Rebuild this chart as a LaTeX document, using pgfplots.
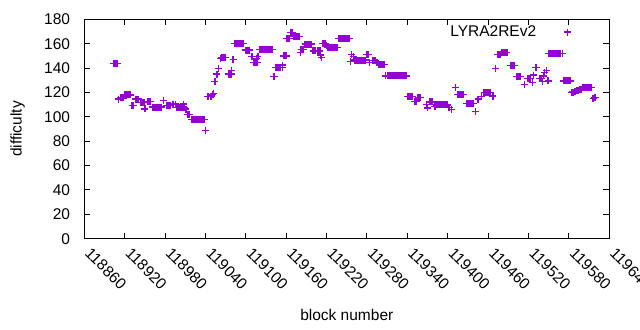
\documentclass[border=0pt]{standalone}
\usepackage{fontspec}
\setmainfont{Liberation Sans}
\usepackage{pgfplots}
\pgfplotsset{compat=1.18}
\definecolor{dv}{HTML}{9400D3}
\newcommand{\ff}{\fontsize{15.5bp}{18bp}\selectfont}
\begin{document}
\begin{tikzpicture}
\begin{axis}[
  scale only axis, width=525bp, height=219.4bp,
  xmin=118860, xmax=119640, ymin=0, ymax=180,
  xtick={118860,118920,118980,119040,119100,119160,119220,119280,119340,119400,119460,119520,119580,119640},
  ytick={0,20,40,60,80,100,120,140,160,180},
  scaled x ticks=false, scaled y ticks=false,
  /pgf/number format/fixed,
  /pgf/number format/precision=0,
  /pgf/number format/1000 sep={},
  /pgf/number format/assume math mode=true,
  tick align=inside, major tick length=6bp,
  axis line style={line width=1bp, black},
  every tick/.style={line width=1bp, black},
  tick label style={font=\ff},
  xticklabel style={xshift=3.5bp, yshift=-12bp, rotate=-45, anchor=west, inner sep=0pt},
  yticklabel style={anchor=east, inner sep=0pt, xshift=-14bp},
  xlabel={block number}, ylabel={difficulty},
  every axis x label/.style={at={(rel axis cs:0.5,-0.3478)}, anchor=center, font=\ff},
  every axis y label/.style={at={(rel axis cs:-0.1272,0.5)}, anchor=center, rotate=90, font=\ff},
  legend plot pos=right,
  legend style={at={(rel axis cs:0.9337,0.942)}, anchor=east, draw=none, fill=none, font=\ff},
]
\addplot[only marks, color=dv, mark=+, mark size=3.5bp, mark options={line width=1.3bp}] coordinates {
(118903,144) (118905,144) (118907,144) (118909,144)
(118911,114.5)
(118914,115.5) (118916,115.5) (118918,115.5)
(118920,118) (118922,118) (118924,118) (118926,118) (118928,118)
(118931,109) (118933,109)
(118936,114.5) (118938,114.5) (118940,114.5)
(118943,112) (118945,112) (118947,112) (118949,111.5)
(118950,106.5)
(118954,112.4) (118956,112.4) (118958,112.4)
(118962,108) (118964,108) (118966,108) (118968,108) (118970,108) (118972,108) (118974,108)
(118978,113.5)
(118982,109) (118984,109) (118986,109) (118988,109)
(118991,110.5) (118993,110.5) (118995,110.5)
(118997,107.7) (118999,107.7) (119001,107.7) (119003,107.7) (119005,107.7) (119007,107.7) (119009,107.7)
(119007,110.5)
(119011,106.4)
(119013,102) (119015,102) (119016,102)
(119019,98) (119021,98) (119023,98) (119025,98) (119027,98) (119029,98) (119031,98) (119033,98) (119035,98) (119037,98) (119039,98)
(119040,89)
(119043,116.5) (119045,116.5) (119047,116.5) (119049,117)
(119051,118.5) (119052,119)
(119054,129)
(119057,135)
(119059,139.8)
(119062,148)
(119064,148.8) (119066,148.8) (119068,148.8) (119070,148.8)
(119074,135) (119076,135) (119078,135)
(119079,138)
(119081,147.2)
(119083,160.3) (119085,160.3) (119087,160.3) (119089,160.3) (119091,160.3) (119093,160.3) (119095,160.3) (119097,160.3)
(119099,154.8) (119101,154.8) (119103,154.8) (119105,154.8)
(119109,149.3)
(119111,144.7) (119113,144.7) (119115,144.7) (119117,144.7)
(119116,148)
(119118,149.3)
(119120,155.4) (119122,155.4) (119124,155.4) (119126,155.4) (119128,155.4) (119130,155.4) (119132,155.4) (119134,155.4) (119136,155.4) (119138,155.4) (119140,155.4)
(119141,133) (119143,133)
(119144,140.3) (119146,140.3) (119148,140.3) (119150,140.3) (119152,140.3) (119154,140.3)
(119154,142.5)
(119156,150) (119158,150) (119160,150)
(119161,164.4) (119163,164.4) (119165,164.4)
(119167,169.3) (119169,169.3)
(119171,165.7) (119173,165.7) (119175,165.7) (119177,165.7) (119179,165.7)
(119181,153)
(119182,155) (119184,155) (119186,155)
(119188,159.7) (119190,159.7) (119192,159.7) (119194,159.7) (119196,159.7) (119198,159.7)
(119200,154) (119202,154) (119204,154) (119206,154) (119208,154) (119210,154)
(119211,150.7) (119212,148.8)
(119214,160.3) (119216,160.3) (119218,160.3)
(119220,158.3)
(119222,157) (119224,157) (119226,157) (119228,157) (119230,157) (119232,157) (119234,157) (119236,157)
(119238,164.4) (119240,164.4) (119242,164.4) (119244,164.4) (119246,164.4) (119248,164.4) (119250,164.4) (119252,164.4) (119254,164.4)
(119255,145.5)
(119257,151.4)
(119260,149.3)
(119262,146.6) (119264,146.6) (119266,146.6) (119268,146.6) (119270,146.6) (119272,146.6) (119274,146.6) (119276,146.6) (119278,146.6)
(119280,151) (119282,151)
(119284,144.4)
(119288,146.3) (119290,146.3) (119292,146.3)
(119295,144.7)
(119298,143.1) (119300,143.1) (119302,143.1) (119304,143.1) (119306,143.1)
(119308,133.5) (119310,133.5) (119312,133.5) (119314,133.5) (119316,133.5) (119318,133.5) (119320,133.5) (119322,133.5) (119324,133.5) (119326,133.5) (119328,133.5) (119330,133.5) (119332,133.5) (119334,133.5) (119336,133.5) (119338,133.5)
(119340,116.8) (119342,116.8) (119344,116.8) (119346,116.8) (119348,116.8)
(119351,112.4) (119353,112.4)
(119356,116) (119358,116) (119360,116)
(119368,110.3)
(119370,107.3)
(119373,112.2) (119375,112.2) (119377,112.2)
(119381,108.5)
(119383,109.7) (119385,109.7) (119387,109.7) (119389,109.7) (119391,109.7) (119393,109.7) (119395,109.7) (119397,109.7) (119399,109.7)
(119402,107.8)
(119406,106)
(119412,124)
(119415,118.5) (119417,118.5) (119419,118.5) (119421,118.5) (119423,118.5)
(119428,111) (119430,111) (119432,111) (119434,111) (119436,111) (119438,111)
(119441,104.5)
(119445,114.6)
(119450,116.5)
(119454,120.1) (119456,120.1) (119458,120.1) (119460,120.1) (119462,120.1) (119464,120.1)
(119467,117)
(119471,139.8)
(119474,151.3) (119476,151.3) (119478,151.3)
(119480,152.9) (119482,152.9) (119484,152.9) (119486,152.9) (119488,152.9)
(119493,142.2) (119495,142.2) (119497,142.2) (119499,142.2)
(119502,133.2) (119504,133.2) (119506,133.2) (119508,133.2)
(119514,126.7)
(119518,131.3) (119520,131.3) (119522,131.3)
(119526,128)
(119527,134.3)
(119530,140.3) (119532,140.3)
(119537,131.6) (119539,131.6)
(119541,128.8)
(119542,133.5)
(119544,136.2)
(119547,137.8)
(119549,129.4)
(119550,152.1) (119552,152.1) (119554,152.1) (119556,152.1) (119558,152.1) (119560,152.1) (119562,152.1) (119564,152.1) (119566,152.1) (119568,152.1) (119570,152.1)
(119572,129.4) (119574,129.4) (119576,129.4) (119578,129.4) (119580,129.4) (119582,129.4)
(119584,119.8)
(119586,120.3) (119588,120.6) (119590,121) (119592,121.3) (119594,121.6) (119596,122) (119598,122.3)
(119600,124.2) (119602,124.2) (119604,124.2) (119606,124.2) (119608,124.2) (119610,124.2) (119612,124.2) (119614,124.2)
(119616,115)
(119618,116) (119620,116)
};
\addlegendentry{\makebox[112bp][l]{LYRA2REv2}}
\coordinate (ll) at (rel axis cs:-0.16057,-0.4161);
\coordinate (ur) at (rel axis cs:1.05848,1.08797);
\end{axis}
\pgfresetboundingbox
\useasboundingbox (ll) rectangle (ur);
\end{tikzpicture}
\end{document}
